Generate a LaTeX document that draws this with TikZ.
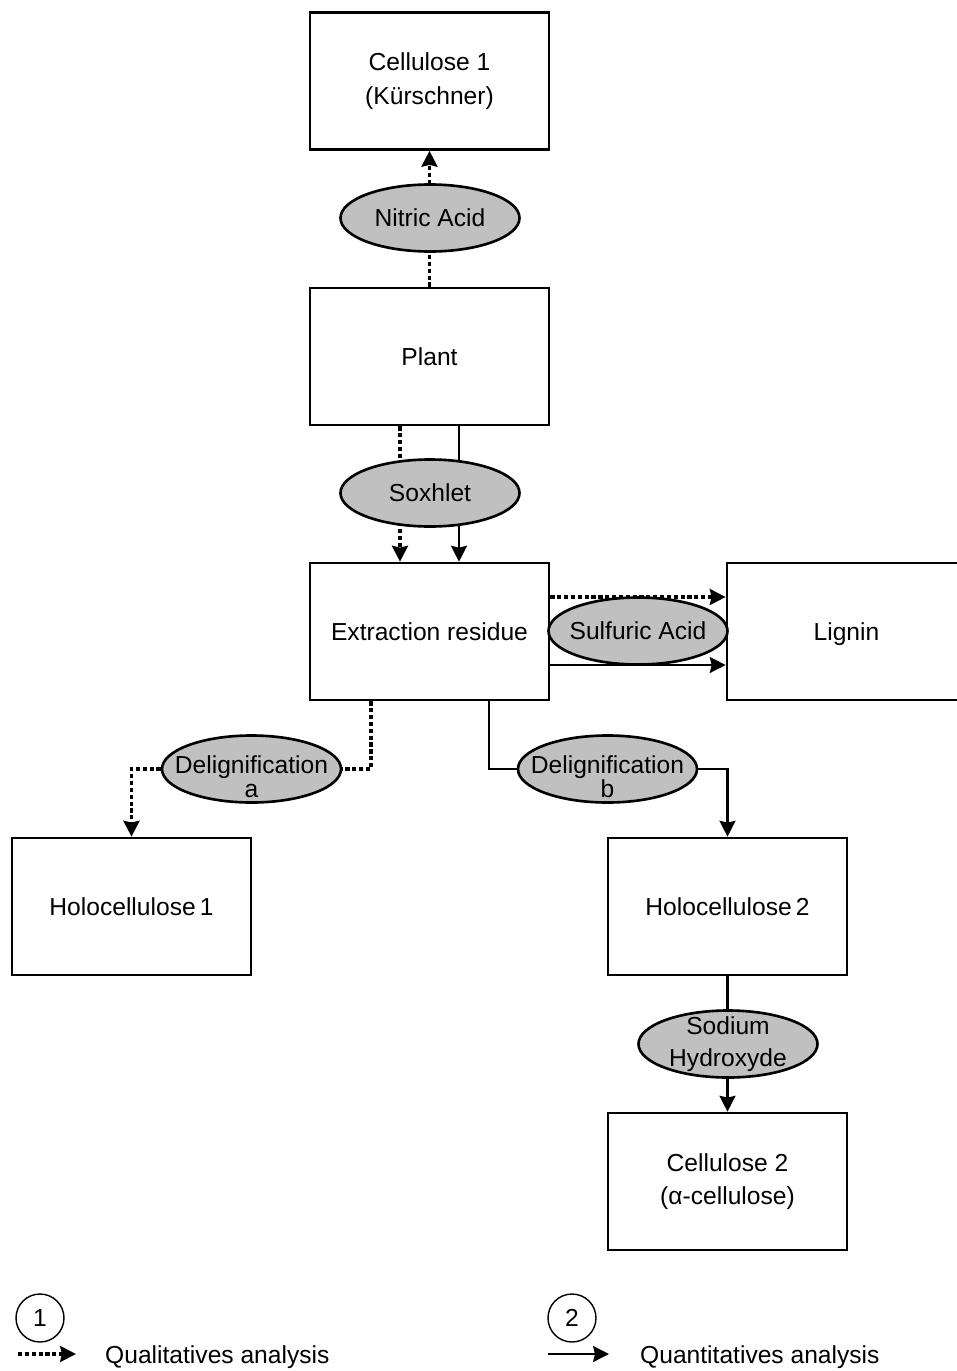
\documentclass[tikz,border=0pt]{standalone}
\usepackage{fontspec}
\setmainfont{Liberation Sans}
\usetikzlibrary{shapes.geometric,arrows.meta,backgrounds}
\definecolor{reagentgray}{RGB}{192,192,192}
\newcommand{\lowstrut}{\rule{0pt}{19pt}}
\tikzset{every node/.style={font=\fontsize{14}{19}\selectfont},
  stepbox/.style={draw,line width=1.5pt,minimum width=4.78cm,minimum height=2.74cm,align=center},
  reagent/.style={ellipse,draw,fill=reagentgray,line width=1.5pt,minimum width=3.58cm,minimum height=1.34cm,
    inner xsep=-1cm,inner ysep=-0.4cm,align=center},
  qual/.style={line width=2.1pt,dash pattern=on 2.4pt off 1.5pt},
  quant/.style={line width=1.5pt}}

\begin{document}
\begin{tikzpicture}[>={Stealth[length=9pt,width=9pt,inset=1pt]}]
      \useasboundingbox (0,0) rectangle (19.14,-27.42);

      \node[stepbox] (cel1) at (8.59, -1.62) {Cellulose 1\\(Kürschner)};
      \node[stepbox] (plant) at (8.59, -7.13) {Plant};
      \node[stepbox] (extr) at (8.59, -12.63) {Extraction residue};
      \node[stepbox] (lignin) at (16.93, -12.63) {\rule{0pt}{13pt}Lignin};
      \node[stepbox] (holo1) at (2.63, -18.13) {Holocellulose\,1};
      \node[stepbox] (holo2) at (14.55, -18.13) {Holocellulose\,2};
      \node[stepbox] (cel2) at (14.55, -23.63) {Cellulose 2\\(α-cellulose)};

      \node[reagent] (nitric) at (8.60, -4.36) {Nitric Acid};
      \node[reagent] (soxhlet) at (8.60, -9.86) {Soxhlet};
      \node[reagent] (sulfuric) at (12.76, -12.62) {Sulfuric Acid};
      \node[reagent] (delA) at (5.03, -15.38) {\lowstrut Delignification\\[-5.5pt]a};
      \node[reagent] (delB) at (12.15, -15.38) {\lowstrut Delignification\\[-5.5pt]b};
      \node[reagent] (sodium) at (14.56, -20.88) {Sodium\\[-1pt]Hydroxyde};

      % legend
      \node[draw,circle,line width=0.8pt,minimum size=0.96cm,inner sep=0pt] (leg1) at (0.80, -26.36) {1};
      \node[draw,circle,line width=0.8pt,minimum size=0.96cm,inner sep=0pt] (leg2) at (11.44, -26.36) {2};
      \node[anchor=west] (qualtxt) at (1.98, -27.14) {Qualitatives analysis};
      \node[anchor=west] (quanttxt) at (12.68, -27.14) {Quantitatives analysis};
      \coordinate (q1) at (0.36, -27.08);
      \coordinate (q2) at (1.52, -27.08);
      \coordinate (n1) at (10.96, -27.08);
      \coordinate (n2) at (12.18, -27.08);

      \begin{scope}[on background layer]
        \draw[qual,->] (plant.north) -- (cel1.south);
        \draw[qual,->] ([xshift=-0.59cm]plant.south) -- ([xshift=-0.59cm]extr.north);
        \draw[quant,->] ([xshift=0.59cm]plant.south) -- ([xshift=0.59cm]extr.north);
        \draw[qual,->] ([yshift=0.69cm]extr.east) -- ([yshift=0.69cm]lignin.west);
        \draw[quant,->] ([yshift=-0.67cm]extr.east) -- ([yshift=-0.67cm]lignin.west);
        \draw[qual,->] ([xshift=-1.17cm]extr.south) |- (delA) -| (holo1.north);
        \draw[quant,->] ([xshift=1.19cm]extr.south) |- (delB) -| (holo2.north);
        \draw[quant,->] (holo2.south) -- (cel2.north);
      \end{scope}
      \draw[qual,->] (q1) -- (q2);
      \draw[quant,->] (n1) -- (n2);
    \end{tikzpicture}
\end{document}
